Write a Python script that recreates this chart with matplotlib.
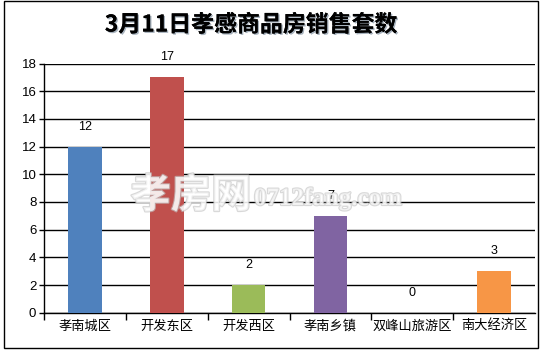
import matplotlib
matplotlib.use("Agg")
import matplotlib.pyplot as plt
import matplotlib.patheffects as pe
from matplotlib.patches import Rectangle

plt.rcParams['font.family'] = ['Noto Sans CJK SC', 'DejaVu Sans']

# data
districts = ['孝南城区', '开发东区', '开发西区', '孝南乡镇', '双峰山旅游区', '南大经济区']
sales = [12, 17, 2, 7, 0, 3]
bar_colors = ['#4F81BD', '#C0504D', '#9BBB59', '#8064A2', '#4BACC6', '#F79646']
yticks = [0, 2, 4, 6, 8, 10, 12, 14, 16, 18]

fig = plt.figure(figsize=(5.4, 3.51), dpi=100)
ax = fig.add_axes([44 / 540, 1 - 312.7 / 351, (535 - 44) / 540, (312.7 - 63.5) / 351])

x = list(range(len(districts)))
ax.bar(x, sales, width=0.41, color=bar_colors, zorder=3)

for xi, v in zip(x, sales):
    ax.annotate(str(v), (xi, v), xytext=(0, 10), textcoords='offset points',
                ha='center', va='bottom', fontsize=9, family='Liberation Sans', zorder=4)

ax.set_xlim(-0.5, len(districts) - 0.5)
ax.set_ylim(0, 18)
ax.set_yticks(yticks)
ax.set_yticklabels([str(t) for t in yticks], family='Liberation Sans', fontsize=9.5)
ax.yaxis.grid(True, color='black', linewidth=1, zorder=1)
ax.set_axisbelow(True)
ax.tick_params(axis='y', length=3.5, width=1, direction='out', pad=2)

# category labels centred, tick marks on category boundaries
ax.set_xticks([i - 0.5 for i in range(len(districts))])
ax.set_xticklabels([])
ax.set_xticks(x, minor=True)
ax.set_xticklabels(districts, minor=True, fontsize=9.5)
ax.tick_params(axis='x', which='major', length=5, width=1, direction='out')
ax.tick_params(axis='x', which='minor', length=0, pad=5)

for s in ['top', 'right']:
    ax.spines[s].set_visible(False)
for s in ['left', 'bottom']:
    ax.spines[s].set_color('black')
    ax.spines[s].set_linewidth(1)

fig.text(251 / 540, 1 - 25 / 351, '3月11日孝感商品房销售套数', ha='center', va='center',
         fontsize=16.5, fontweight='bold',
         path_effects=[pe.withSimplePatchShadow(offset=(1, -1), shadow_rgbFace='#8090a0', alpha=0.7),
                       pe.Normal()])

# outer chart border
fig.patches.append(Rectangle((3.5 / 540, 1 - 347.5 / 351), 534 / 540, 346.5 / 351,
                             transform=fig.transFigure, fill=False, edgecolor='black',
                             linewidth=1, zorder=10))

# watermark
wm = [pe.withStroke(linewidth=1.6, foreground='#c4c4c4')]
fig.text(191 / 540, 1 - 196 / 351, '孝房网', ha='center', va='center', fontsize=29,
         fontweight='bold', color='white', alpha=0.65, path_effects=wm, zorder=20)
fig.text(254 / 540, 1 - 205 / 351, '0712fang.com', ha='left', va='baseline', fontsize=18,
         family='Liberation Serif', fontweight='bold', color='white', alpha=0.65,
         path_effects=wm, zorder=20)

fig.savefig('out.png', dpi=100)
